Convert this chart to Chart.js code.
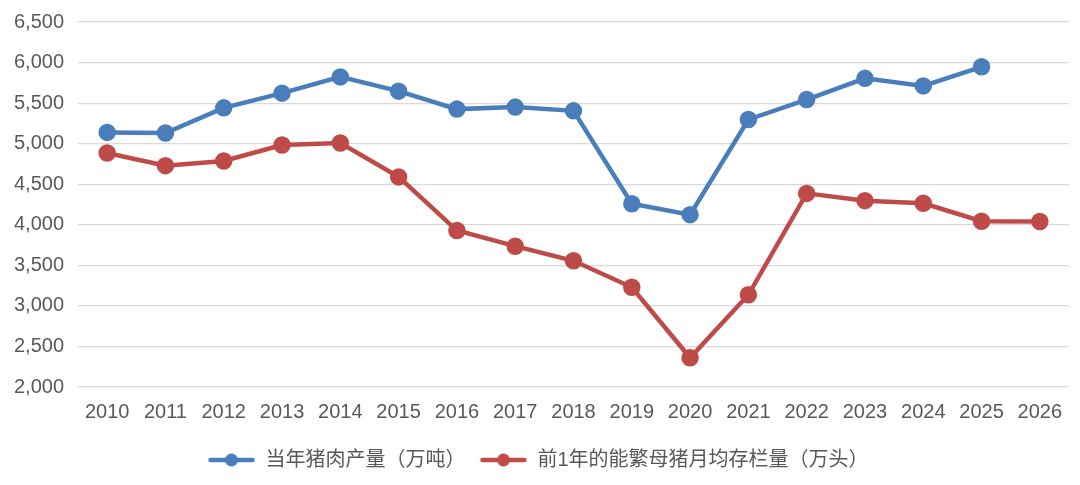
<!DOCTYPE html>
<html lang="zh">
<head>
  <meta charset="UTF-8">
  <title>猪肉产量与能繁母猪存栏</title>
  <style>
    * { margin: 0; padding: 0; box-sizing: border-box; }
    body { background: #fff; width: 1080px; height: 485px; overflow: hidden; }
    .chart-box { position: relative; width: 1080px; height: 485px; }
  </style>
</head>
<body>
  <div class="chart-box"><canvas id="chart"></canvas></div>

  <script src="https://cdn.jsdelivr.net/npm/chart.js@4.4.1/dist/chart.umd.min.js"></script>
  <script>
    const years = ['2010', '2011', '2012', '2013', '2014', '2015', '2016', '2017', '2018',
      '2019', '2020', '2021', '2022', '2023', '2024', '2025', '2026'];
    const porkOutput = [5139, 5131, 5442, 5623, 5823, 5647, 5426, 5451, 5405,
      4260, 4125, 5298, 5544, 5805, 5712, 5948, null];
    const sowStock = [4885, 4729, 4787, 4983, 5008, 4590, 3929, 3736, 3556,
      3230, 2360, 3137, 4387, 4297, 4265, 4044, 4040];
    const seriesNames = ['当年猪肉产量（万吨）', '前1年的能繁母猪月均存栏量（万头）'];

    const BLUE = '#4a7ebb';
    const RED = '#be4b48';
    const TEXT = '#595959';
    const FONT = "'Liberation Sans', Arial, 'Noto Sans CJK SC', sans-serif";

    // legend marker: short line with a dot in the middle
    function legendMarker(color) {
      const c = document.createElement('canvas');
      c.width = 48; c.height = 14;
      const ctx = c.getContext('2d');
      ctx.strokeStyle = color;
      ctx.lineWidth = 4.5;
      ctx.lineCap = 'round';
      ctx.beginPath();
      ctx.moveTo(3, 7); ctx.lineTo(45, 7);
      ctx.stroke();
      ctx.fillStyle = color;
      ctx.beginPath();
      ctx.arc(24, 7, 6.5, 0, Math.PI * 2);
      ctx.fill();
      return c;
    }

    new Chart(document.getElementById('chart'), {
      type: 'line',
      data: {
        labels: years,
        datasets: [
          {
            label: seriesNames[0],
            data: porkOutput,
            borderColor: BLUE,
            backgroundColor: BLUE,
            borderWidth: 4.5,
            pointRadius: 6.5,
            pointHoverRadius: 6.5,
            pointStyle: 'circle',
            tension: 0
          },
          {
            label: seriesNames[1],
            data: sowStock,
            borderColor: RED,
            backgroundColor: RED,
            borderWidth: 4.5,
            pointRadius: 6.5,
            pointHoverRadius: 6.5,
            pointStyle: 'circle',
            tension: 0
          }
        ]
      },
      options: {
        responsive: true,
        maintainAspectRatio: false,
        animation: false,
        devicePixelRatio: 1,
        layout: { padding: { left: 0, right: 4, top: 3, bottom: 5 } },
        plugins: {
          tooltip: { enabled: false },
          legend: {
            position: 'bottom',
            labels: {
              usePointStyle: true,
              pointStyleWidth: 48,
              boxHeight: 14,
              color: TEXT,
              font: { family: FONT, size: 20 },
              padding: 14,
              generateLabels(chart) {
                return chart.data.datasets.map((ds, i) => ({
                  text: ds.label,
                  fillStyle: ds.borderColor,
                  strokeStyle: ds.borderColor,
                  lineWidth: 0,
                  pointStyle: legendMarker(ds.borderColor),
                  fontColor: TEXT,
                  hidden: false,
                  datasetIndex: i
                }));
              }
            }
          }
        },
        scales: {
          x: {
            offset: true,
            grid: { display: false },
            border: { display: false },
            afterFit(scale) { scale.height += 7; },
            ticks: { color: TEXT, font: { family: FONT, size: 20 }, padding: 5, maxRotation: 0 }
          },
          y: {
            min: 2000,
            max: 6500,
            grid: { color: '#d9d9d9', lineWidth: 1.2, drawTicks: false },
            border: { display: false },
            afterFit(scale) { scale.width = 78; },
            ticks: {
              stepSize: 500,
              color: TEXT,
              padding: 14,
              font: { family: FONT, size: 20, lineHeight: 0.8 },
              callback: v => v.toLocaleString('en-US')
            }
          }
        }
      }
    });
  </script>
</body>
</html>
